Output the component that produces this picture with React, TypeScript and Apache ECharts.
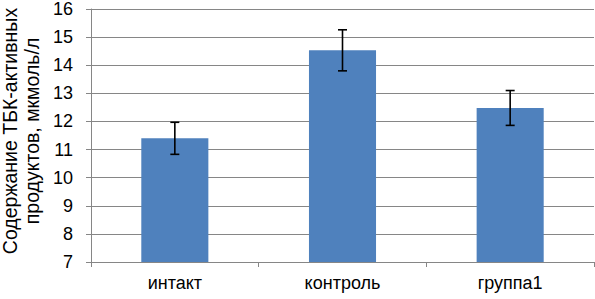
import React, { useEffect, useRef } from "react";
import * as echarts from "echarts";

const categories = ["интакт", "контроль", "группа1"];
const values = [11.4, 14.53, 12.48];
const errors = [0.57, 0.73, 0.62];
const yTicks = { min: 7, max: 16, interval: 1 };
const yTitle = "Содержание ТБК-активных\nпродуктов, мкмоль/л";

const FONT = "'Liberation Sans', Arial, sans-serif";
const GRAY = "#868686";

export default function App() {
  const ref = useRef<HTMLDivElement>(null);
  useEffect(() => {
    if (!ref.current) return;
    const chart = echarts.init(ref.current, null, { renderer: "svg" });
    const errData = values.map((v, i) => [i, v - errors[i], v + errors[i]]);
    chart.setOption({
      animation: false,
      grid: { left: 91, right: 1, top: 7, bottom: 37, containLabel: false },
      xAxis: {
        type: "category",
        data: categories,
        axisLine: { lineStyle: { color: GRAY, width: 1 } },
        axisTick: { show: true, length: 5, lineStyle: { color: GRAY } },
        axisLabel: { color: "#000", fontFamily: FONT, fontSize: 18, margin: 12 },
      },
      yAxis: {
        type: "value",
        min: yTicks.min,
        max: yTicks.max,
        interval: yTicks.interval,
        axisLine: { show: true, lineStyle: { color: GRAY, width: 1 } },
        axisTick: { show: true, length: 5, lineStyle: { color: GRAY } },
        splitLine: { lineStyle: { color: GRAY, width: 1 } },
        axisLabel: { color: "#000", fontFamily: FONT, fontSize: 18, margin: 18 },
      },
      graphic: [
        {
          type: "text",
          x: 21,
          y: 131,
          rotation: Math.PI / 2,
          style: {
            text: yTitle,
            align: "center",
            verticalAlign: "middle",
            fontFamily: FONT,
            fontSize: 19.5,
            lineHeight: 22,
            fill: "#000",
          },
        },
      ],
      series: [
        {
          type: "bar",
          data: values,
          barWidth: "40%",
          itemStyle: { color: "#4F81BD" },
        },
        {
          type: "custom",
          data: errData,
          z: 10,
          renderItem: (params: any, api: any) => {
            const x = api.value(0);
            const lo = api.coord([x, api.value(1)]);
            const hi = api.coord([x, api.value(2)]);
            const hw = 4.5;
            const style = { stroke: "#000", lineWidth: 1.6 };
            return {
              type: "group",
              children: [
                { type: "line", shape: { x1: lo[0], y1: lo[1], x2: hi[0], y2: hi[1] }, style },
                { type: "line", shape: { x1: lo[0] - hw, y1: lo[1], x2: lo[0] + hw, y2: lo[1] }, style },
                { type: "line", shape: { x1: hi[0] - hw, y1: hi[1], x2: hi[0] + hw, y2: hi[1] }, style },
              ],
            };
          },
        },
      ],
    });
    return () => chart.dispose();
  }, []);
  return (
    <div
      ref={ref}
      style={{ position: "absolute", left: 0, top: 0, width: 595, height: 299, background: "#fff" }}
    />
  );
}
